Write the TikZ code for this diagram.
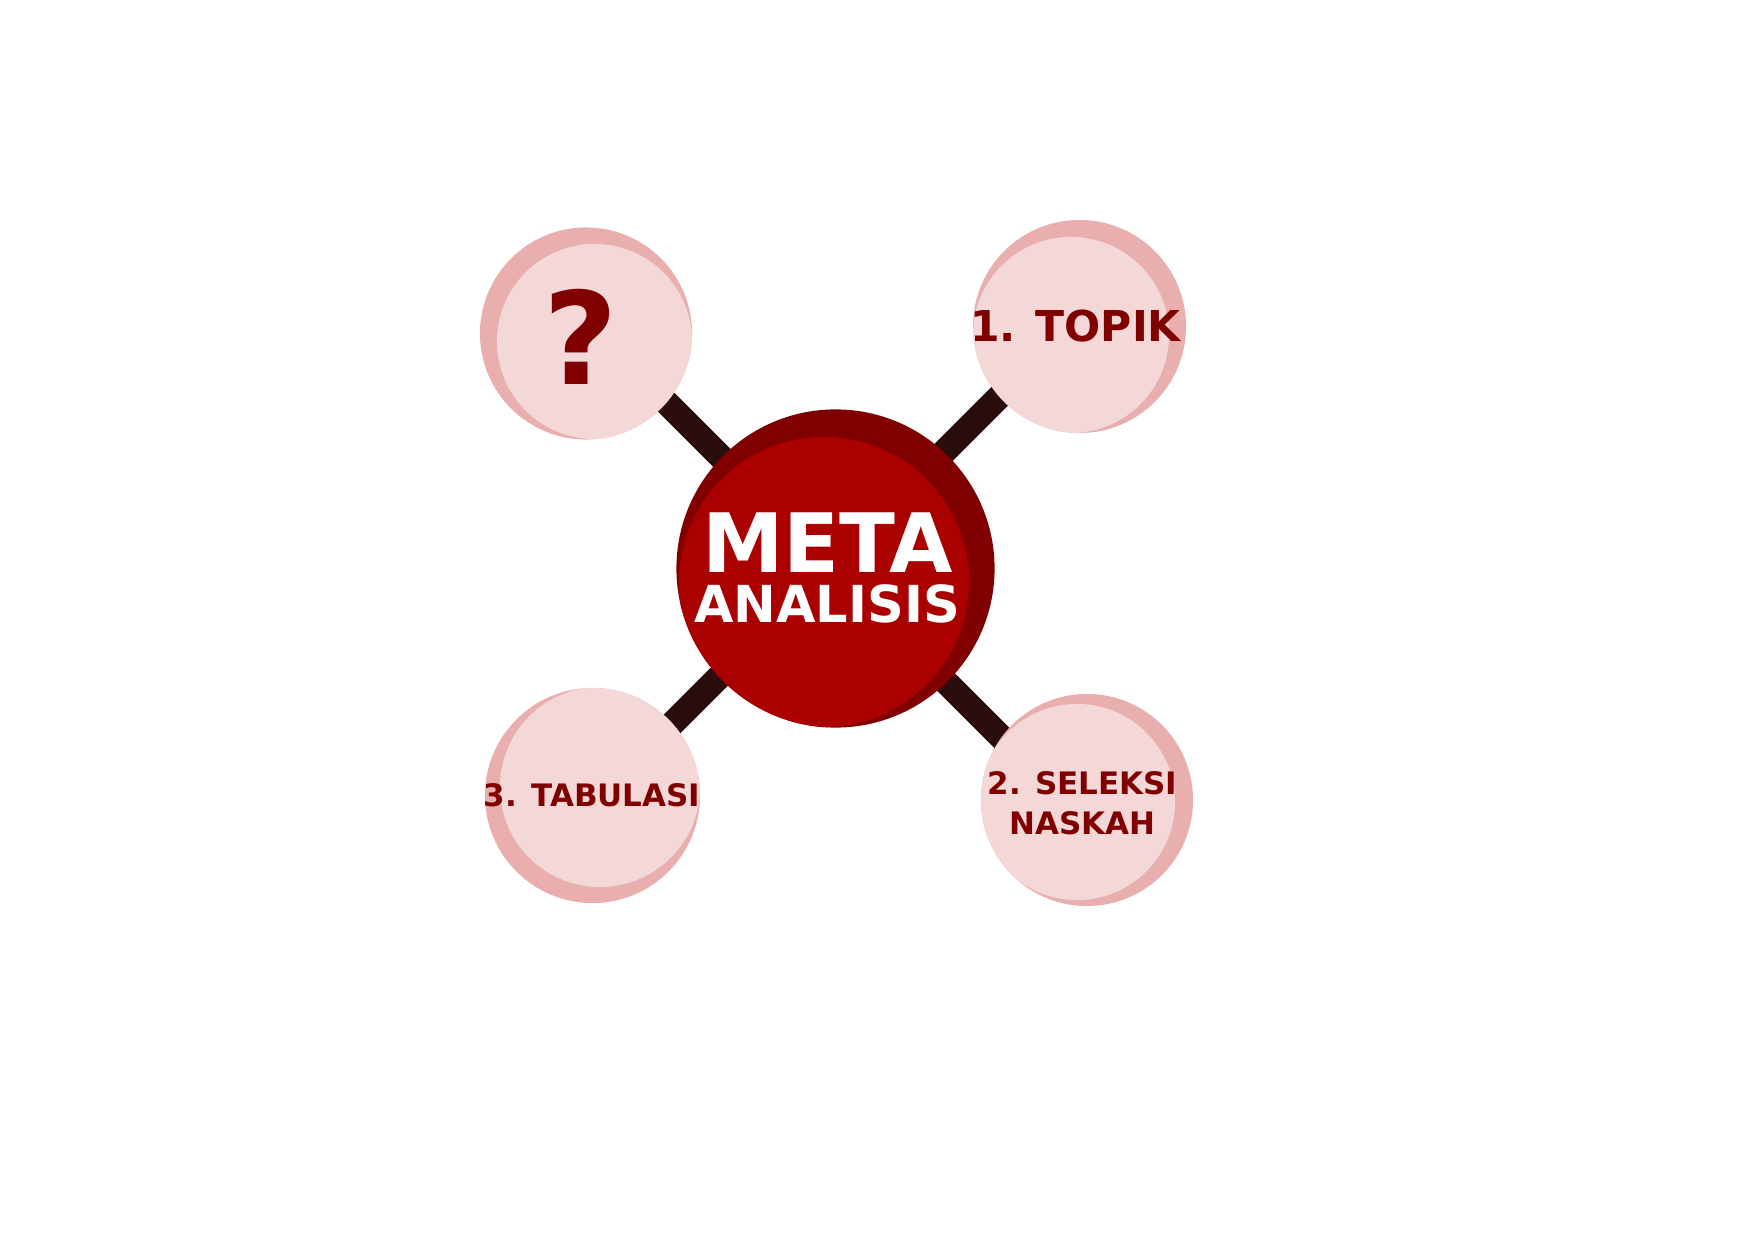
\documentclass[tikz,border=0pt]{standalone}
\usepackage{fontspec}
\setmainfont{DejaVu Sans}
\usetikzlibrary{backgrounds}
\definecolor{maroon}{HTML}{800000}
\definecolor{redin}{HTML}{AA0000}
\definecolor{pinkout}{HTML}{E9AFAF}
\definecolor{pinkin}{HTML}{F4D7D7}
\definecolor{barcol}{HTML}{2A0D0D}
\tikzset{
    bubble/.style n args = {5}{circle, inner sep=0pt, draw=none, fill=#1, minimum size=#2,
        path picture={\fill[#3] ([shift={#4}]path picture bounding box.center) circle (#5);}},
    centre/.style = {bubble={maroon}{3.18cm}{redin}{(-0.115cm,-0.135cm)}{1.45cm}},
    sat/.style n args = {3}{bubble={pinkout}{#1}{pinkin}{#2}{#3}},
    bigtext/.style = {anchor=base, inner sep=0pt, text=white, font=\bfseries\fontsize{23.3pt}{28pt}\selectfont},
    midtext/.style = {anchor=base, inner sep=0pt, text=white, font=\bfseries\fontsize{14.5pt}{17pt}\selectfont},
    sattext/.style = {anchor=base, inner sep=0pt, align=center, text=maroon, font=\bfseries\fontsize{#1}{11.4pt}\selectfont},
    barline/.style = {line width=0.25cm, barcol}
}
\begin{document}
\begin{tikzpicture}[x=0.01cm, y=-0.01cm]
  \useasboundingbox (0,0) rectangle (1754,1240);
  % centre and the four steps
  \node[centre] (cen) at (835.5,568.5) {};
  \node[sat={2.12cm}{(0.085cm,-0.08cm)}{0.975cm}] (ask) at (586,333.5) {};
  \node[sat={2.13cm}{(-0.085cm,-0.085cm)}{0.98cm}] (topik) at (1079.5,326.5) {};
  \node[sat={2.12cm}{(-0.1cm,-0.02cm)}{0.98cm}] (seleksi) at (1087,800) {};
  \node[sat={2.15cm}{(0.075cm,0.085cm)}{1.0cm}] (tabulasi) at (592.5,795.5) {};
  % texts
  \node[bigtext] (meta) at (827.5,573) {META};
  \node[midtext] (analisis) at (827,623) {ANALISIS};
  \node[sattext=36.5pt] (askt) at (581,385) {?};
  \node[sattext=12.1pt] (topikt) at (1075.5,341.7) {1. TOPIK};
  \node[sattext=8.8pt] (seleksit) at (1082.5,835) {2. SELEKSI\\NASKAH};
  \node[sattext=8.8pt] (tabulasit) at (592,806.7) {3. TABULASI};
  % bars (crossing a bit off the centre, ends hidden under the bubbles)
  \coordinate (hub) at ([shift={(-5.5,-2.5)}]cen.center);
  \coordinate (askend) at ([shift={(-230,-230)}]hub);
  \coordinate (topikend) at ([shift={(240,-240)}]hub);
  \coordinate (seleksiend) at ([shift={(250,250)}]hub);
  \coordinate (tabulasiend) at ([shift={(-235,235)}]hub);
  \begin{scope}[on background layer]
    \foreach \s in {ask,topik,seleksi,tabulasi}
      \draw[barline] (hub) -- (\s end);
  \end{scope}
\end{tikzpicture}
\end{document}
